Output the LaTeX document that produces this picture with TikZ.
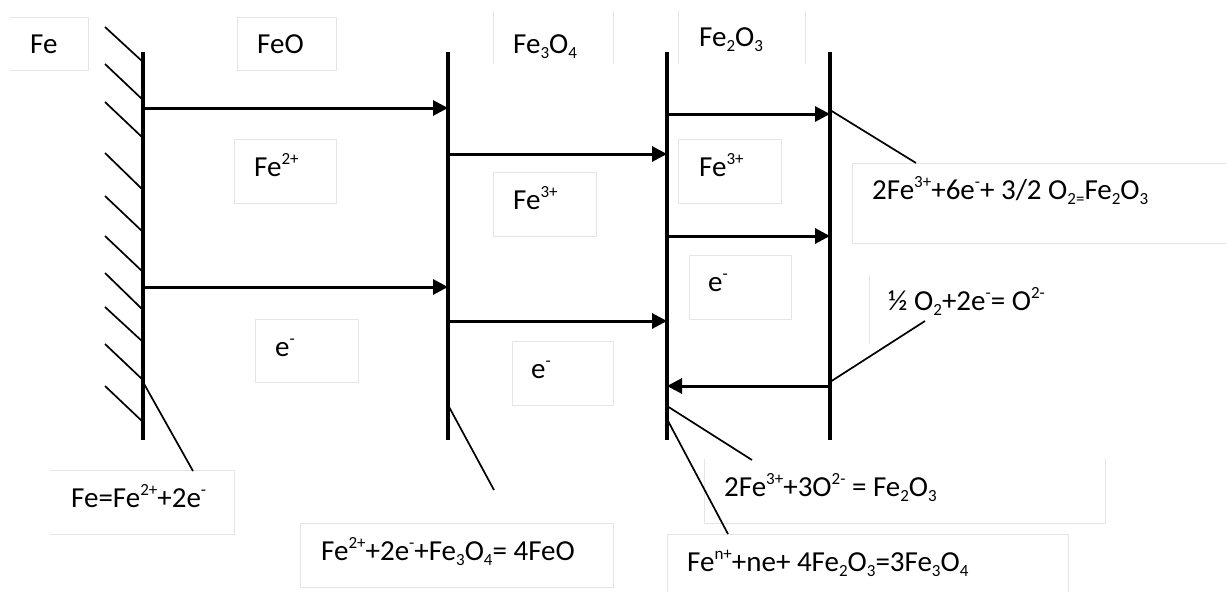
\documentclass[tikz,border=0pt]{standalone}
\usepackage{fontspec}
\setmainfont{Carlito}
\usetikzlibrary{arrows.meta}

\tikzset{
  wall/.style={line width=4pt},
  hatch/.style={line width=1.7pt},
  flow/.style={line width=3pt, -{Triangle[length=15pt, width=15pt]}},
  leader/.style={line width=1.7pt},
  faint/.style={draw=black!10, line width=1pt},
  lab/.style={anchor=base west, inner sep=0pt, font=\fontsize{29}{34}\selectfont}
}
\newcommand{\sps}[1]{\raisebox{12pt}{\fontsize{17}{17}\selectfont #1}}
\newcommand{\sbs}[1]{\raisebox{-5pt}{\fontsize{17}{17}\selectfont #1}}

\begin{document}
\begin{tikzpicture}[x=1pt, y=-1pt]
  \useasboundingbox (0,0) rectangle (1226,592);
  % faint frames
  \draw[faint] (10,17) -- (88,17) -- (88,70) -- (10,70);
  \draw[faint] (237,17) rectangle (336,70);
  \draw[faint] (234,139) rectangle (336,203);
  \draw[faint] (493,11) -- (493,64) (613,11) -- (613,64);
  \draw[faint] (678,11) -- (678,64) (805,11) -- (805,64);
  \draw[faint] (493,172) rectangle (596,236);
  \draw[faint] (678,139) rectangle (781,203);
  \draw[faint] (689,255) rectangle (791,319);
  \draw[faint] (255,319) rectangle (358,382);
  \draw[faint] (512,341) rectangle (613,405);
  \draw[faint] (1226,163) -- (852,163) -- (852,243) -- (1226,243);
  \draw[faint] (869,275) -- (869,344);
  \draw[faint] (704,459) -- (704,523) -- (1105,523) -- (1105,459);
  \draw[faint] (667,592) -- (667,534) -- (1068,534) -- (1068,592);
  \draw[faint] (50,470) -- (234,470) -- (234,534) -- (50,534);
  \draw[faint] (300,523) rectangle (613,587);
  % walls
  \foreach \n/\x in {1/143, 2/448, 3/667, 4/830} {
    \coordinate (w\n t) at (\x,52);
    \coordinate (w\n b) at (\x,440);
    \draw[wall] (w\n t) -- (w\n b);
  }
  % hatching on the metal
  \foreach \ya/\yb in {27/62, 64/100, 102/138, 153/190, 196/232, 236/272, 273/310, 307/342, 344/380, 386/422}
    \draw[hatch] (105,\ya) -- (143,\yb);
  % flows
  \foreach \na/\nb/\y in {1/2/108, 1/2/287, 2/3/154, 2/3/321, 3/4/114, 3/4/236, 4/3/386} {
    \path (w\na t |- 0,\y) coordinate (s) (w\nb t |- 0,\y) coordinate (e);
    \draw[flow] (s) -- (e);
  }
  % labels
  \node[lab] (fe) at (30,53) {Fe};
  \node[lab] (feo) at (257,53) {FeO};
  \node[lab] (feiiio) at (513,53) {Fe\sbs{3}O\sbs{4}};
  \node[lab] (feiio) at (699,46) {Fe\sbs{2}O\sbs{3}};
  \node[lab] (feplus) at (254,176) {Fe\sps{2+}};
  \node[lab] (feiiia) at (513,209) {Fe\sps{3+}};
  \node[lab] (feiiib) at (699,176) {Fe\sps{3+}};
  \node[lab] (ea) at (275,356) {e\sps{-}};
  \node[lab] (eb) at (531,378) {e\sps{-}};
  \node[lab] (ec) at (708,291) {e\sps{-}};
  \node[lab] (eqa) at (71,507) {Fe=Fe\sps{2+}+2e\sps{-}};
  \node[lab] (eqb) at (321,560) {Fe\sps{2+}+2e\sps{-}+Fe\sbs{3}O\sbs{4}= 4FeO};
  \node[lab] (eqc) at (872,199) {2Fe\sps{3+}+6e\sps{-}+ 3/2 O\sbs{2=}Fe\sbs{2}O\sbs{3}};
  \node[lab] (eqd) at (888,310) {½ O\sbs{2}+2e\sps{-}= O\sps{2-}};
  \node[lab] (eqe) at (724,496) {2Fe\sps{3+}+3O\sps{2-} = Fe\sbs{2}O\sbs{3}};
  \node[lab] (eqf) at (687,571) {Fe\sps{n+}+ne+ 4Fe\sbs{2}O\sbs{3}=3Fe\sbs{3}O\sbs{4}};
  % leaders
  \coordinate (la) at (193,471);
  \coordinate (lb) at (494,490);
  \coordinate (lc) at (916,163);
  \coordinate (ld) at (925,321);
  \coordinate (le) at (752,460);
  \coordinate (lf) at (728,534);
  \draw[leader] (w1t |- 0,382) -- (la);
  \draw[leader] (w2t |- 0,405) -- (lb);
  \draw[leader] (w4t |- 0,110) -- (lc);
  \draw[leader] (w4t |- 0,382) -- (ld);
  \draw[leader] (w3t |- 0,406) -- (le);
  \draw[leader] (w3t |- 0,419) -- (lf);
\end{tikzpicture}
\end{document}
